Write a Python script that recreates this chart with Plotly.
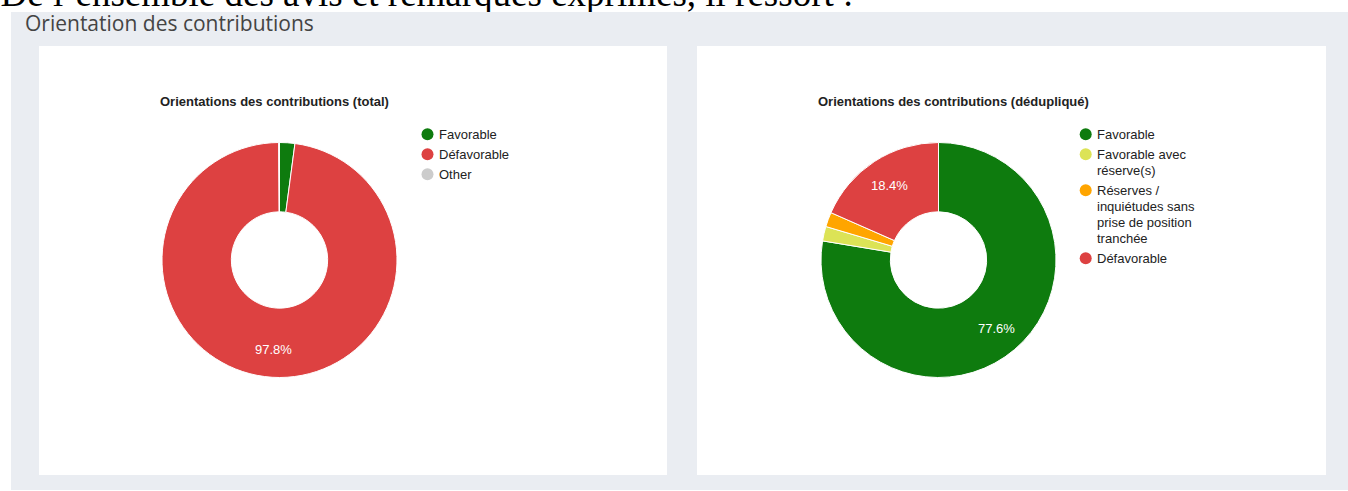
import math
import textwrap
import plotly.graph_objects as go

W, H = 1348, 491

# --- data -------------------------------------------------------------
total_labels = ["Favorable", "Défavorable", "Other"]
total_values = [2.1, 97.8, 0.1]
total_colors = ["#0e7b0e", "#dd4141", "#cccccc"]

dedup_labels = [
    "Favorable",
    "Favorable avec réserve(s)",
    "Réserves / inquiétudes sans prise de position tranchée",
    "Défavorable",
]
dedup_values = [77.6, 2.0, 2.0, 18.4]
dedup_colors = ["#0e7b0e", "#dce356", "#ffa500", "#dd4141"]

page_heading = "De l’ensemble des avis et remarques exprimés, il ressort :"
panel_title = "Orientation des contributions"
chart_titles = [
    "Orientations des contributions (total)",
    "Orientations des contributions (dédupliqué)",
]


# --- helpers: pixel -> paper coordinates ------------------------------
def fx(px):
    return px / W


def fy(py):
    return 1 - py / H


PANEL = "#eaedf2"
FONT = "Arial, 'Liberation Sans', sans-serif"
HEAD_SIZE = 37

fig = go.Figure()

# heading text, clipped to the strip above the panel
fig.add_trace(go.Scatter(
    x=[0.5], y=[0.35 * HEAD_SIZE - 10], mode="text", text=[page_heading],
    textposition="middle right", cliponaxis=True,
    textfont=dict(family="'Liberation Serif', 'Times New Roman', serif",
                  size=HEAD_SIZE, color="#000000"),
    hoverinfo="skip", showlegend=False,
))

annotations = []

# donut charts with their percentage labels
donuts = [
    (total_labels, total_values, total_colors, 279.5),
    (dedup_labels, dedup_values, dedup_colors, 938.5),
]
for labels, values, colors, cx in donuts:
    cy, r = 260, 117.5
    fig.add_trace(go.Pie(
        labels=labels, values=values, sort=False, direction="clockwise",
        rotation=0, hole=0.41,
        marker=dict(colors=colors, line=dict(color="#ffffff", width=1)),
        textinfo="none",
        domain=dict(x=[fx(cx - r), fx(cx + r)], y=[fy(cy + r), fy(cy - r)]),
        showlegend=False, hoverinfo="label+percent",
    ))
    tot = sum(values)
    start = 0.0
    for v in values:
        share = v / tot
        if share >= 0.05:
            ang = 2 * math.pi * (start + share / 2)
            rad = 0.76 * r
            px = cx + rad * math.sin(ang)
            py = cy - rad * math.cos(ang)
            annotations.append(dict(
                text=f"{share:.1%}", xref="paper", yref="paper",
                x=fx(px), y=fy(py), xanchor="center", yanchor="middle",
                showarrow=False,
                font=dict(family=FONT, size=13, color="#ffffff")))
        start += share

shapes = [
    # grey panel and the two white cards
    dict(type="rect", xref="paper", yref="paper", layer="below",
         x0=fx(11), x1=fx(W + 2), y0=fy(490), y1=fy(12),
         fillcolor=PANEL, line=dict(width=0)),
    dict(type="rect", xref="paper", yref="paper", layer="below",
         x0=fx(39), x1=fx(667), y0=fy(475), y1=fy(46),
         fillcolor="#ffffff", line=dict(width=0)),
    dict(type="rect", xref="paper", yref="paper", layer="below",
         x0=fx(697), x1=fx(1326), y0=fy(475), y1=fy(46),
         fillcolor="#ffffff", line=dict(width=0)),
]

annotations.append(dict(
    text=panel_title, xref="paper", yref="paper", x=fx(22.5), y=fy(23),
    xanchor="left", yanchor="middle", showarrow=False,
    font=dict(family="'Open Sans', sans-serif", size=21, color="#444444")))

# chart titles and circle-marker legends
legend_specs = [
    (total_labels, total_colors, 158, 427.5),
    (dedup_labels, dedup_colors, 816, 1085.7),
]
for (labels, colors, title_x, dot_x), title in zip(legend_specs, chart_titles):
    annotations.append(dict(
        text=f"<b>{title}</b>", xref="paper", yref="paper",
        x=fx(title_x), y=fy(102), xanchor="left", yanchor="middle",
        showarrow=False, font=dict(family=FONT, size=13, color="#222222")))
    row = 134.3
    for label, color in zip(labels, colors):
        dot = 6
        shapes.append(dict(
            type="circle", xref="paper", yref="paper", layer="below",
            x0=fx(dot_x - dot), x1=fx(dot_x + dot),
            y0=fy(row + dot), y1=fy(row - dot),
            fillcolor=color, line=dict(width=0)))
        lines = textwrap.wrap(label, 17)
        for i, line in enumerate(lines):
            annotations.append(dict(
                text=line, xref="paper", yref="paper",
                x=fx(dot_x + 9.5), y=fy(row + 16 * i),
                xanchor="left", yanchor="middle", showarrow=False,
                font=dict(family=FONT, size=13, color="#222222")))
        row += 16 * (len(lines) - 1) + 20

fig.update_layout(
    width=W, height=H,
    margin=dict(l=0, r=0, t=0, b=0),
    paper_bgcolor="#ffffff", plot_bgcolor="rgba(0,0,0,0)",
    xaxis=dict(domain=[0, 1], range=[0, W], visible=False, fixedrange=True),
    yaxis=dict(domain=[fy(12), 1], range=[-12, 0], visible=False,
               fixedrange=True),
    shapes=shapes, annotations=annotations,
    showlegend=False,
)

fig.write_html("out.html")
